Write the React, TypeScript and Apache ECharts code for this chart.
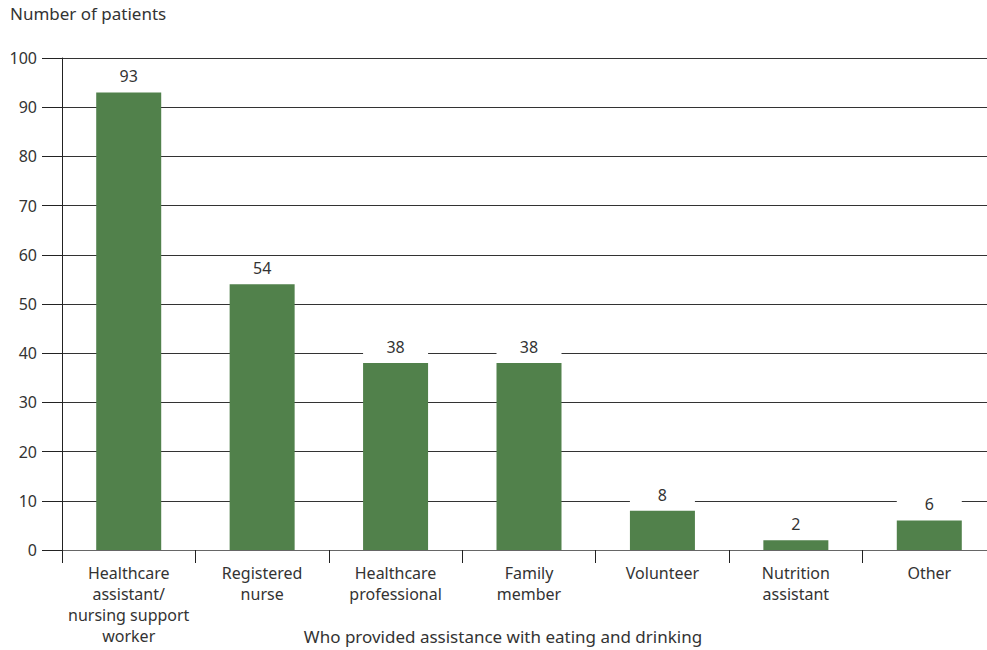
import React, { useEffect, useRef } from "react";
import * as echarts from "echarts";

const categories = [
  "Healthcare\nassistant/\nnursing support\nworker",
  "Registered\nnurse",
  "Healthcare\nprofessional",
  "Family\nmember",
  "Volunteer",
  "Nutrition\nassistant",
  "Other",
];
const values = [93, 54, 38, 38, 8, 2, 6];
const yTitle = "Number of patients";
const xTitle = "Who provided assistance with eating and drinking";

const FONT = "'Noto Sans', 'Open Sans', sans-serif";
const TEXT = "#333333";

export default function App() {
  const ref = useRef<HTMLDivElement>(null);
  useEffect(() => {
    if (!ref.current) return;
    const chart = echarts.init(ref.current, null, { renderer: "svg" });
    chart.setOption({
      animation: false,
      textStyle: { fontFamily: FONT },
      grid: { left: 62, right: 0, top: 58, bottom: 100, containLabel: false },
      graphic: [
        {
          type: "text",
          left: 10,
          top: 5,
          style: { text: yTitle, fontSize: 17, fill: TEXT, fontFamily: FONT },
        },
        {
          type: "text",
          x: 503,
          y: 636,
          style: {
            text: xTitle,
            fontSize: 17,
            fill: TEXT,
            fontFamily: FONT,
            align: "center",
            verticalAlign: "middle",
          },
        },
      ],
      xAxis: {
        type: "category",
        data: categories,
        axisLine: { show: true, lineStyle: { color: "#666666", width: 1 } },
        axisTick: { show: true, length: 13, lineStyle: { color: "#222222" } },
        axisLabel: {
          color: TEXT,
          fontSize: 16,
          lineHeight: 21,
          margin: 12,
          fontFamily: FONT,
          interval: 0,
        },
      },
      yAxis: {
        type: "value",
        min: 0,
        max: 100,
        interval: 10,
        axisLine: { show: true, lineStyle: { color: "#222222", width: 1 } },
        axisTick: { show: true, length: 20, lineStyle: { color: "#222222" } },
        axisLabel: { color: TEXT, fontSize: 16, margin: 25, fontFamily: FONT },
        splitLine: { show: true, lineStyle: { color: "#333333", width: 1 } },
      },
      series: [
        {
          type: "bar",
          data: values,
          barWidth: 65,
          itemStyle: { color: "#51814B" },
          label: {
            show: true,
            position: "top",
            distance: 6,
            width: 65,
            height: 20,
            lineHeight: 20,
            align: "center",
            backgroundColor: "#ffffff",
            color: TEXT,
            fontSize: 16,
            fontFamily: FONT,
          },
        },
      ],
    });
    return () => chart.dispose();
  }, []);
  return (
    <div style={{ position: "absolute", left: 0, top: 0, width: 987, height: 650, overflow: "hidden" }}>
      <div ref={ref} style={{ width: 996, height: 650 }} />
    </div>
  );
}
